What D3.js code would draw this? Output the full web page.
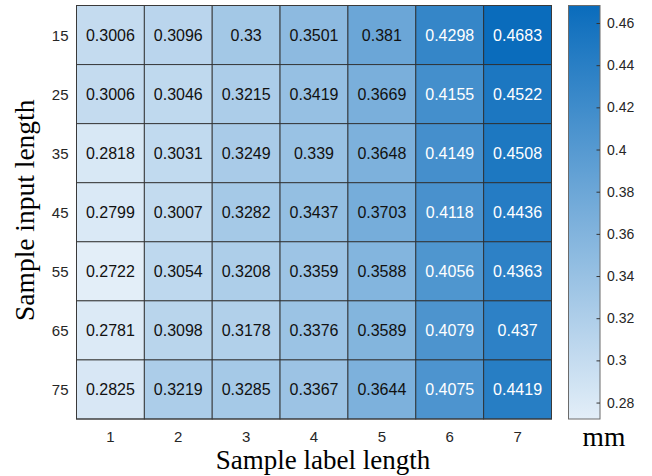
<!DOCTYPE html>
<html>
<head>
<meta charset="utf-8">
<script src="https://cdn.jsdelivr.net/npm/d3@7"></script>
<style>
  html, body { margin: 0; padding: 0; background: #fff; }
  svg { display: block; }
</style>
</head>
<body>
<svg id="chart" width="652" height="476"></svg>
<script>
// Column categories (sample label length) and row categories (sample input length)
const labelLengths = [1, 2, 3, 4, 5, 6, 7];
const inputLengths = [15, 25, 35, 45, 55, 65, 75];

// Error values in mm, one array per input length row
const row15 = [0.3006, 0.3096, 0.33, 0.3501, 0.381, 0.4298, 0.4683];
const row25 = [0.3006, 0.3046, 0.3215, 0.3419, 0.3669, 0.4155, 0.4522];
const row35 = [0.2818, 0.3031, 0.3249, 0.339, 0.3648, 0.4149, 0.4508];
const row45 = [0.2799, 0.3007, 0.3282, 0.3437, 0.3703, 0.4118, 0.4436];
const row55 = [0.2722, 0.3054, 0.3208, 0.3359, 0.3588, 0.4056, 0.4363];
const row65 = [0.2781, 0.3098, 0.3178, 0.3376, 0.3589, 0.4079, 0.437];
const row75 = [0.2825, 0.3219, 0.3285, 0.3367, 0.3644, 0.4075, 0.4419];
const rows = [row15, row25, row35, row45, row55, row65, row75];

// Colorbar tick values
const colorTicks = [0.28, 0.3, 0.32, 0.34, 0.36, 0.38, 0.4, 0.42, 0.44, 0.46];

const svg = d3.select("#chart");
const plot = { left: 76.5, top: 5.5, right: 551.5, bottom: 419 };
const cbar = { left: 568.5, right: 600, top: 5.5, bottom: 419 };

const cells = [];
rows.forEach((r, i) => r.forEach((v, j) => cells.push({ row: inputLengths[i], col: labelLengths[j], value: v })));

const allVals = cells.map(d => d.value);
const vmin = d3.min(allVals), vmax = d3.max(allVals);

const x = d3.scaleBand().domain(labelLengths).range([plot.left, plot.right]);
const y = d3.scaleBand().domain(inputLengths).range([plot.top, plot.bottom]);
const color = d3.scaleLinear().domain([vmin, vmax])
  .range(["#e3eef8", "#0a6cbc"]).interpolate(d3.interpolateRgb);

const sansFont = "'Liberation Sans', Arial, sans-serif";
const serifFont = "'Liberation Serif', 'Times New Roman', serif";

// Heatmap cells
const g = svg.append("g");
g.selectAll("rect.cell").data(cells).join("rect")
  .attr("class", "cell")
  .attr("x", d => x(d.col))
  .attr("y", d => y(d.row))
  .attr("width", x.bandwidth())
  .attr("height", y.bandwidth())
  .attr("fill", d => color(d.value))
  .attr("stroke", "#2b2b2b")
  .attr("stroke-opacity", 0.85)
  .attr("stroke-width", 1);

// Cell value labels
g.selectAll("text.val").data(cells).join("text")
  .attr("class", "val")
  .attr("x", d => x(d.col) + x.bandwidth() / 2)
  .attr("y", d => y(d.row) + y.bandwidth() / 2)
  .attr("text-anchor", "middle")
  .attr("dominant-baseline", "central")
  .attr("font-family", sansFont)
  .attr("font-size", 16)
  .attr("fill", d => (d.value - vmin) / (vmax - vmin) > 0.62 ? "#ffffff" : "#111111")
  .text(d => d3.format("")(d.value));

// Outer frame
svg.append("rect")
  .attr("x", plot.left).attr("y", plot.top)
  .attr("width", plot.right - plot.left).attr("height", plot.bottom - plot.top)
  .attr("fill", "none").attr("stroke", "#3a3a3a").attr("stroke-width", 1);

// Axis tick labels
const xAxis = d3.axisBottom(x).tickSize(0).tickPadding(12);
svg.append("g")
  .attr("transform", `translate(0,${plot.bottom})`)
  .call(xAxis)
  .call(s => s.select(".domain").remove())
  .call(s => s.selectAll("text").attr("font-family", sansFont).attr("font-size", 15).attr("fill", "#262626"));

const yAxis = d3.axisLeft(y).tickSize(0).tickPadding(8);
svg.append("g")
  .attr("transform", `translate(${plot.left},1)`)
  .call(yAxis)
  .call(s => s.select(".domain").remove())
  .call(s => s.selectAll("text").attr("font-family", sansFont).attr("font-size", 15).attr("fill", "#262626"));

// Axis titles
svg.append("text")
  .attr("x", (plot.left + plot.right) / 2 + 9)
  .attr("y", 469)
  .attr("text-anchor", "middle")
  .attr("font-family", serifFont)
  .attr("font-size", 27)
  .attr("fill", "#000")
  .text("Sample label length");

svg.append("text")
  .attr("transform", `translate(34,${(plot.top + plot.bottom) / 2 - 2}) rotate(-90)`)
  .attr("text-anchor", "middle")
  .attr("font-family", serifFont)
  .attr("font-size", 27.5)
  .attr("fill", "#000")
  .text("Sample input length");

// Colorbar
const defs = svg.append("defs");
const grad = defs.append("linearGradient")
  .attr("id", "cbgrad").attr("x1", 0).attr("y1", 1).attr("x2", 0).attr("y2", 0);
d3.range(0, 1.0001, 0.1).forEach(t => {
  grad.append("stop").attr("offset", t).attr("stop-color", color(vmin + t * (vmax - vmin)));
});

const cy = d3.scaleLinear().domain([vmin, vmax]).range([cbar.bottom, cbar.top]);
svg.append("rect")
  .attr("x", cbar.left).attr("y", cbar.top)
  .attr("width", cbar.right - cbar.left).attr("height", cbar.bottom - cbar.top)
  .attr("fill", "url(#cbgrad)")
  .attr("stroke", "#6b6b6b").attr("stroke-width", 1);

const cAxis = d3.axisRight(cy).tickValues(colorTicks).tickSize(-3.5).tickPadding(7)
  .tickFormat(d => d3.format("")(+d.toFixed(2)));
svg.append("g")
  .attr("transform", `translate(${cbar.right},0)`)
  .call(cAxis)
  .call(s => s.select(".domain").remove())
  .call(s => s.selectAll("line").attr("stroke", "#333"))
  .call(s => s.selectAll("text").attr("font-family", sansFont).attr("font-size", 14).attr("fill", "#262626"));

svg.append("text")
  .attr("x", 604)
  .attr("y", 446)
  .attr("text-anchor", "middle")
  .attr("font-family", serifFont)
  .attr("font-size", 27.5)
  .attr("fill", "#000")
  .text("mm");
</script>
</body>
</html>
